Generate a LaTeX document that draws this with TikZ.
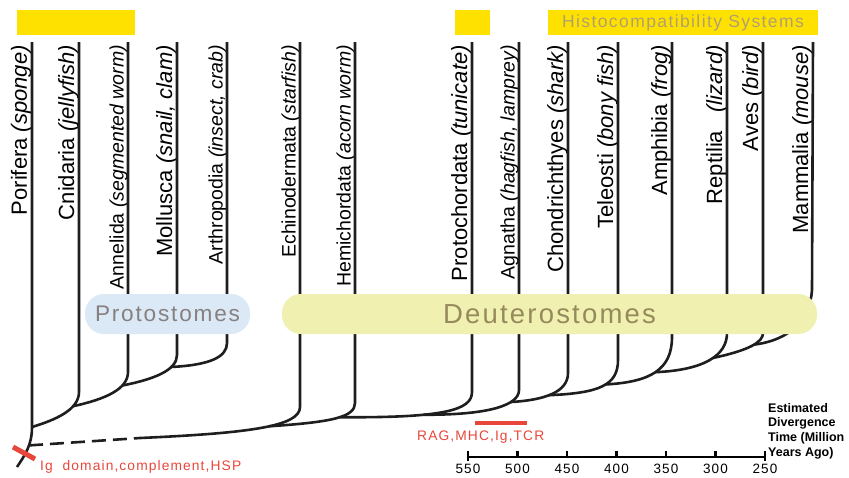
\documentclass[tikz,border=0pt]{standalone}
\usepackage{fontspec}
\setmainfont{Liberation Sans}
\newfontfamily\widefont[LetterSpace=8]{Liberation Sans}
\usepackage{xcolor}
\usepackage{tikz}
\usetikzlibrary{positioning}

\definecolor{barYellow}{RGB}{255,225,0}
\definecolor{histText}{RGB}{176,160,112}
\definecolor{protoFill}{RGB}{219,232,245}
\definecolor{protoText}{RGB}{135,128,128}
\definecolor{deutFill}{RGB}{240,240,176}
\definecolor{deutText}{RGB}{150,138,92}
\definecolor{markRed}{RGB}{232,70,58}
\definecolor{treeInk}{RGB}{30,30,30}

\begin{document}
\begin{tikzpicture}[
  x=1pt, y=-1pt,
  branch/.style={draw=treeInk, line width=2.6pt},
  rootdash/.style={branch, dash pattern=on 14pt off 7pt},
  taxon/.style={rotate=90, anchor=base east, inner sep=0pt, font=\fontsize{22}{24}\selectfont},
  taxonsm/.style={taxon, font=\fontsize{19.5}{22}\selectfont},
  bar/.style={fill=barYellow, inner sep=0pt, minimum height=25pt},
  group/.style={rounded corners=19pt, inner sep=0pt, minimum height=40pt},
  redlbl/.style={text=markRed, inner sep=0pt, font=\widefont\fontsize{13.8}{16}\selectfont},
  yrlbl/.style={inner sep=0pt, font=\widefont\fontsize{13.5}{15}\selectfont},
  axisline/.style={draw=black, line width=2.4pt}]

  \useasboundingbox (0,0) rectangle (849,477);

  % yellow bars on top
  \node[bar, minimum width=118pt] (barA) at (76,22.5) {};
  \node[bar, minimum width=35pt] (barB) at (472.5,22.5) {};
  \node[bar, minimum width=270pt, text=histText, font=\widefont\fontsize{17.5}{20}\selectfont] (histBar) at (683,22.5) {Histocompatibility Systems};

  % tops of the taxa
  \coordinate (por) at (32,42);
  \coordinate (cni) at (79,42);
  \coordinate (ann) at (128,42);
  \coordinate (mol) at (177,42);
  \coordinate (art) at (227,42);
  \coordinate (ech) at (300,42);
  \coordinate (hem) at (355,42);
  \coordinate (pro) at (472,42);
  \coordinate (agn) at (519,42);
  \coordinate (cho) at (568,42);
  \coordinate (tel) at (618,42);
  \coordinate (amp) at (672,42);
  \coordinate (rep) at (727,42);
  \coordinate (ave) at (763,42);
  \coordinate (mam) at (813,42);

  % taxon names
  \node[taxon] (porL) at (27,45) {Porifera \textit{(sponge)}};
  \node[taxon] (cniL) at (74,45) {Cnidaria \textit{(jellyfish)}};
  \node[taxonsm] (annL) at (123.5,45) {Annelida \textit{(segmented worm)}};
  \node[taxon] (molL) at (172,45) {Mollusca \textit{(snail, clam)}};
  \node[taxonsm] (artL) at (222.5,45) {Arthropodia \textit{(insect, crab)}};
  \node[taxonsm] (echL) at (295.5,45) {Echinodermata \textit{(starfish)}};
  \node[taxonsm] (hemL) at (350.5,45) {Hemichordata \textit{(acorn worm)}};
  \node[taxon] (proL) at (467,45) {Protochordata \textit{(tunicate)}};
  \node[taxonsm] (agnL) at (514.5,45) {Agnatha \textit{(hagfish, lamprey)}};
  \node[taxon] (choL) at (563,45) {Chondrichthyes \textit{(shark)}};
  \node[taxon] (telL) at (613,45) {Teleosti \textit{(bony fish)}};
  \node[taxon] (ampL) at (667,45) {Amphibia \textit{(frog)}};
  \node[taxon] (repL) at (722,45) {Reptilia~~~\textit{(lizard)}};
  \node[taxon] (aveL) at (758,45) {Aves \textit{(bird)}};
  \node[taxon] (mamL) at (808,45) {Mammalia \textit{(mouse)}};

  % protostome side of the tree
  \draw[branch] (por) -- (32,427) coordinate (jA)
    .. controls (32,445) and (25,455) .. (17,467) coordinate[pos=0.4] (jR);
  \draw[branch] (jA) .. controls (55,420) and (79,410) .. (79,392) coordinate[pos=0.7] (jB) -- (cni);
  \draw[branch] (jB) .. controls (106,399) and (128,389) .. (128,372) coordinate[pos=0.7] (jC) -- (ann);
  \draw[branch] (jC) .. controls (155,379) and (177,370) .. (177,355) coordinate[pos=0.7] (jD) -- (mol);
  \draw[branch] (jD) .. controls (210,365) and (227,357) .. (227,343) -- (art);

  % deuterostome side of the tree
  \coordinate (deut0) at (140,438);
  \draw[rootdash] (jR) -- (deut0);
  \draw[branch] (deut0) .. controls (252,433) and (300,426) .. (300,407) coordinate[pos=0.55] (jF) -- (ech);
  \draw[branch] (jF) .. controls (333,422) and (355,417) .. (355,403) coordinate[pos=0.55] (jG) -- (hem);
  \draw[branch] (jG) .. controls (445,418) and (472,410) .. (472,392) coordinate[pos=0.35] (jH) -- (pro);
  \draw[branch] (jH) .. controls (490,415) and (519,405) .. (519,390) coordinate[pos=0.7] (jI) -- (agn);
  \draw[branch] (jI) .. controls (545,400) and (568,392) .. (568,373) coordinate[pos=0.45] (jJ) -- (cho);
  \draw[branch] (jJ) .. controls (600,393) and (618,385) .. (618,360) coordinate[pos=0.55] (jK) -- (tel);
  \draw[branch] (jK) .. controls (650,382) and (672,370) .. (672,337) coordinate[pos=0.5] (jL) -- (amp);
  \draw[branch] (jL) .. controls (705,370) and (727,355) .. (727,333) coordinate[pos=0.55] (jM) -- (rep);
  \draw[branch] (jM) .. controls (750,350) and (763,342) .. (763,333) coordinate[pos=0.55] (jN) -- (ave);
  \draw[branch] (jN) .. controls (790,340) and (810,320) .. (812,290) -- (mam);

  % group labels over the tree
  \node[group, fill=protoFill, minimum width=165pt, text=protoText,
        font=\widefont\fontsize{22.6}{26}\selectfont] (protoL) at (167.5,314) {Protostomes};
  \node[group, fill=deutFill, minimum width=535pt, text=deutText,
        font=\widefont\fontsize{27.5}{30}\selectfont] (deutL) at (549.5,314) {Deuterostomes};

  % red marks
  \draw[markRed, line width=5pt] (13,447) -- (35,459);
  \node[redlbl, anchor=base west] (igL) at (40,470.5) {Ig\ \ domain,complement,HSP};
  \coordinate (rag0) at (475,423);
  \coordinate (rag1) at (527,423);
  \draw[markRed, line width=4.5pt] (rag0) -- (rag1);
  \node[redlbl, anchor=west] (ragL) at (417,437) {RAG,MHC,Ig,TCR};

  % time axis
  \coordinate (ax0) at (468,457);
  \coordinate (ax1) at (765,457);
  \draw[axisline] (ax0) -- (ax1);
  \draw[axisline] (ax0) ++(0,-6) -- ++(0,10);
  \draw[axisline] (ax1) ++(0,-6) -- ++(0,10);
  \foreach \yr [count=\i from 0] in {550,500,...,250} {
    \draw[axisline] (468+\i*49.5,457) -- (468+\i*49.5,451);
    \node[yrlbl] (yr\yr) at (468+\i*49.5,469) {\yr};
  }
  \node[anchor=north west, inner sep=0pt, align=left,
        font=\bfseries\fontsize{12.5}{14.7}\selectfont] (estL) at (768,403)
        {Estimated\\Divergence\\Time (Million\\Years Ago)};
\end{tikzpicture}
\end{document}
